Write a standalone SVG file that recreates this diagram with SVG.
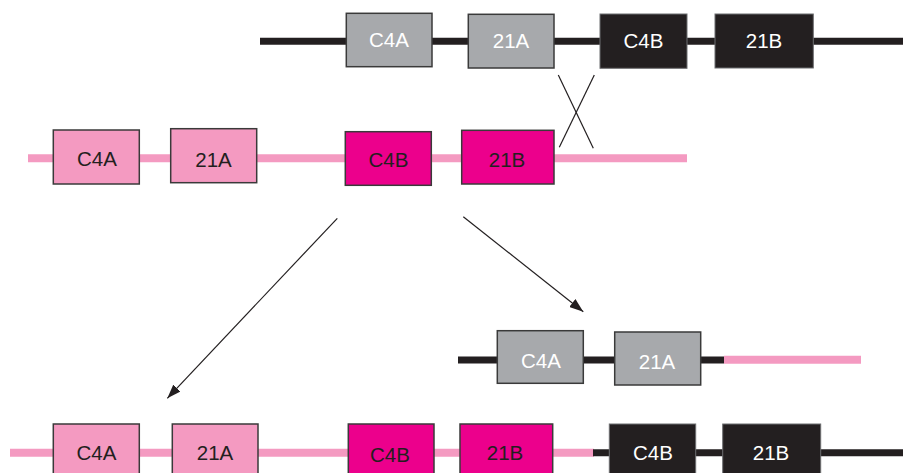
<svg xmlns="http://www.w3.org/2000/svg" width="903" height="473" viewBox="0 0 903 473">
<style>
.blk{stroke:#231f20;stroke-width:7;fill:none}
.pnk{stroke:#f49ac1;stroke-width:8;fill:none}
.g{fill:#a7a9ac;stroke:#3a3a3a;stroke-width:1.5}
.k{fill:#231f20;stroke:#6d6e71;stroke-width:1}
.lp{fill:#f49ac1;stroke:#3a3a3a;stroke-width:1.5}
.mg{fill:#ec008c;stroke:#3a3a3a;stroke-width:1.5}
text{font-family:"Liberation Sans",Arial,sans-serif;font-size:20.5px;text-anchor:middle}
.w{fill:#ffffff}
.d{fill:#231f20}
.ln{stroke:#231f20;stroke-width:1.2;fill:none}
</style>
<defs>
<marker id="ah" markerUnits="userSpaceOnUse" markerWidth="14" markerHeight="10" refX="14" refY="5" orient="auto">
<path d="M0,0 L14,5 L0,10 Z" fill="#231f20"/>
</marker>
</defs>
<rect width="903" height="473" fill="#ffffff"/>
<g id="chromosomes">
<line class="blk" x1="260" y1="41.3" x2="903" y2="41.3"/>
<line class="pnk" x1="28" y1="158.3" x2="687" y2="158.3"/>
<line class="blk" x1="458" y1="360" x2="724" y2="360"/>
<line class="pnk" x1="724" y1="359.7" x2="861" y2="359.7"/>
<line class="pnk" x1="10" y1="452.8" x2="594" y2="452.8"/>
<line class="blk" x1="593" y1="452.8" x2="903" y2="452.8"/>
</g>
<g id="connectors">
<line class="ln" x1="558.3" y1="75" x2="593.3" y2="148.3"/>
<line class="ln" x1="594.3" y1="75" x2="559.3" y2="147.3"/>
<line class="ln" x1="337.3" y1="218.3" x2="167.3" y2="398.3" marker-end="url(#ah)"/>
<line class="ln" x1="463.3" y1="216.7" x2="583.3" y2="311.7" marker-end="url(#ah)"/>
</g>
<g id="r1-c4a"><rect class="g" x="346.3" y="13.3" width="85.7" height="53.4"/><text class="w" x="389" y="47.3">C4A</text></g>
<g id="r1-21a"><rect class="g" x="468.3" y="14.3" width="85.7" height="53.7"/><text class="w" x="511" y="48">21A</text></g>
<g id="r1-c4b"><rect class="k" x="600" y="14" width="87" height="54.3"/><text class="w" x="643.5" y="48">C4B</text></g>
<g id="r1-21b"><rect class="k" x="715" y="14" width="98.3" height="54"/><text class="w" x="764" y="48">21B</text></g>
<g id="r2-c4a"><rect class="lp" x="53.3" y="130" width="86" height="54"/><text class="d" x="97" y="166">C4A</text></g>
<g id="r2-21a"><rect class="lp" x="170.7" y="128.7" width="86" height="54"/><text class="d" x="213.5" y="167.3">21A</text></g>
<g id="r2-c4b"><rect class="mg" x="345.3" y="131.7" width="86" height="53.6"/><text class="d" x="388.5" y="166.5">C4B</text></g>
<g id="r2-21b"><rect class="mg" x="461.7" y="130.3" width="92.3" height="53.7"/><text class="d" x="507" y="166.5">21B</text></g>
<g id="r3-c4a"><rect class="g" x="497.3" y="330.7" width="86" height="52.6"/><text class="w" x="541" y="367.7">C4A</text></g>
<g id="r3-21a"><rect class="g" x="614.7" y="332" width="86" height="53"/><text class="w" x="657" y="368.7">21A</text></g>
<g id="r4-c4a"><rect class="lp" x="53.3" y="424" width="86" height="54"/><text class="d" x="96.5" y="460.3">C4A</text></g>
<g id="r4-21a"><rect class="lp" x="172.3" y="424" width="85.7" height="54"/><text class="d" x="215" y="460.3">21A</text></g>
<g id="r4-c4b"><rect class="mg" x="348.3" y="424" width="85.7" height="54"/><text class="d" x="390" y="461.7">C4B</text></g>
<g id="r4-21b"><rect class="mg" x="460" y="424" width="92.7" height="54"/><text class="d" x="505" y="460">21B</text></g>
<g id="r4-c4b2"><rect class="k" x="609.3" y="424" width="86.4" height="54"/><text class="w" x="653" y="460">C4B</text></g>
<g id="r4-21b2"><rect class="k" x="722.7" y="424" width="98" height="54"/><text class="w" x="771" y="460">21B</text></g>
</svg>
